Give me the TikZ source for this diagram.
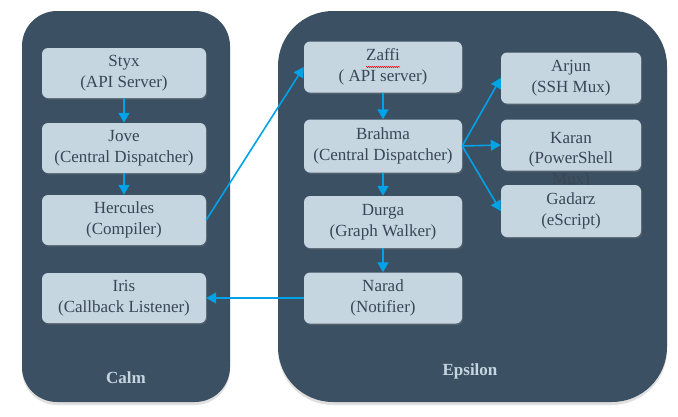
\documentclass[tikz,border=0pt]{standalone}
\usepackage{fontspec}
\setmainfont{Liberation Serif}
\usetikzlibrary{arrows.meta,shadows,decorations.pathmorphing}
\definecolor{slate}{RGB}{59,80,99}
\definecolor{pale}{RGB}{197,214,224}
\definecolor{ink}{RGB}{58,70,86}
\definecolor{wire}{RGB}{0,162,232}

\begin{document}
\begin{tikzpicture}[x=1pt, y=-1pt,
    >={Triangle[length=10pt,width=11pt]},
    zone/.style={fill=slate, rounded corners=#1,
      drop shadow={shadow xshift=0pt, shadow yshift=-3pt, opacity=0.25}},
    txt/.style={text=ink, align=center, font=\fontsize{17}{20.5}\selectfont},
    comp/.style={txt, fill=pale, rounded corners=6pt, minimum height=50pt,
      execute at begin node=\rule{0pt}{19pt},
      drop shadow={shadow xshift=1pt, shadow yshift=-1.5pt, opacity=0.35}},
    zonelabel/.style={text=pale, font=\fontsize{17}{20}\selectfont\bfseries},
    flow/.style={->, draw=wire, line width=1.6pt}]
      \useasboundingbox (0,0) rectangle (678,416);
      % the two zones
      \fill[zone=35pt] (22,11) rectangle (230,402);
      \fill[zone=55pt] (278,11) rectangle (667,402);
      \node[zonelabel] (calm) at (126,378) {Calm};
      \node[zonelabel] (epsilon) at (470,371) {Epsilon};
      % Calm
      \node[comp, minimum width=164pt] (styx) at (124,73) {Styx\\(API Server)};
      \node[comp, minimum width=164pt] (jove) at (124,148) {Jove\\(Central Dispatcher)};
      \node[comp, minimum width=164pt] (hercules) at (124,220) {Hercules\\(Compiler)};
      \node[comp, minimum width=164pt] (iris) at (124,298) {Iris\\(Callback Listener)};
      % Epsilon
      \node[comp, minimum width=158pt, minimum height=51pt] (zaffi) at (383,67) {Zaffi\\( API server)};
      \node[comp, minimum width=158pt, minimum height=53pt] (brahma) at (383,146) {Brahma\\(Central Dispatcher)};
      \node[comp, minimum width=158pt, minimum height=52pt] (durga) at (383,222) {Durga\\(Graph Walker)};
      \node[comp, minimum width=158pt, minimum height=51pt] (narad) at (383,298) {Narad\\(Notifier)};
      \node[comp, minimum width=140pt, minimum height=51pt] (arjun) at (571,78) {Arjun\\(SSH Mux)};
      \node[comp, minimum width=140pt, minimum height=51pt] (karan) at (571,145) {};
      \node[txt] (karantext) at (571,160) {Karan\\(PowerShell\\Mux)};
      \node[comp, minimum width=140pt, minimum height=52pt] (gadarz) at (571,211) {Gadarz\\(eScript)};
      \draw[red, line width=0.5pt, decorate, decoration={snake, amplitude=0.6pt, segment length=2pt}] (366,67) -- (400,67);
      % connectors
      \draw[flow] (styx) -- (jove);
      \draw[flow] (jove) -- (hercules);
      \draw[flow] (hercules.east) -- (zaffi.west);
      \draw[flow] (zaffi) -- (brahma);
      \draw[flow] (brahma) -- (durga);
      \draw[flow] (durga) -- (narad);
      \draw[flow] (narad.west) -- (iris.east);
      \draw[flow] (brahma.east) -- (arjun.west);
      \draw[flow] (brahma.east) -- (karan.west);
      \draw[flow] (brahma.east) -- (gadarz.west);
    \end{tikzpicture}
\end{document}
